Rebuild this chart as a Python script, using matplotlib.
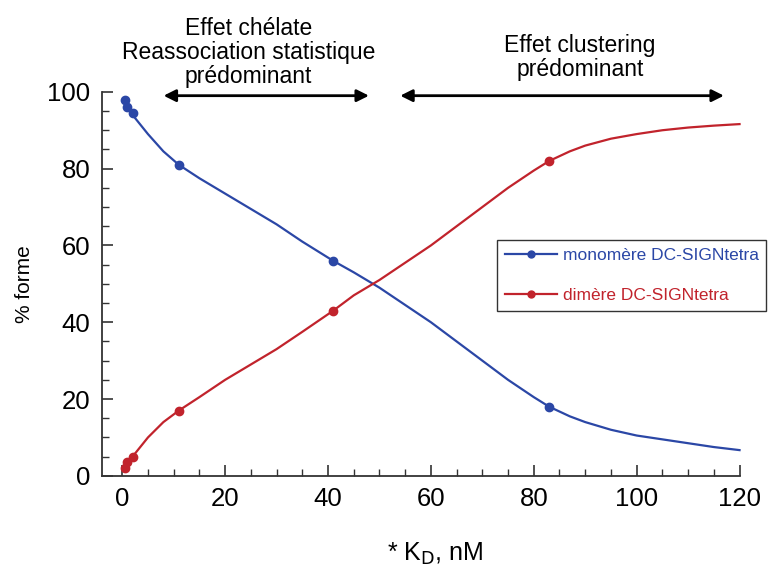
import matplotlib
matplotlib.use('Agg')
import matplotlib.pyplot as plt
from matplotlib.ticker import MultipleLocator

# measured points
kd_pts = [0.5, 1, 2, 11, 41, 83]
mono_pts = [98, 96, 94.5, 81, 56, 18]
dimer_pts = [2, 3.5, 5, 17, 43, 82]

# fitted curves
kd_fit = [0.5, 1, 2, 3.5, 5, 8, 11, 15, 20, 25, 30, 35, 41, 45, 50, 55, 60, 65, 70, 75, 80, 83,
          87, 90, 95, 100, 105, 110, 115, 120]
mono_fit = [98, 96, 94, 91.5, 89, 84.5, 81, 77.5, 73.5, 69.5, 65.5, 61, 56, 53, 49, 44.5, 40,
            35, 30, 25, 20.5, 18, 15.5, 14, 12, 10.5, 9.5, 8.5, 7.5, 6.7]
dimer_fit = [2, 3.5, 5, 7.5, 10, 14, 17, 20.5, 25, 29, 33, 37.5, 43, 47, 51, 55.5, 60, 65, 70,
             75, 79.5, 82, 84.5, 86, 87.8, 89, 90, 90.7, 91.2, 91.6]

blue = '#2b47a6'
red = '#c1232c'

plt.rcParams['font.family'] = ['Liberation Sans', 'DejaVu Sans']

fig = plt.figure(figsize=(7.82, 5.74), dpi=100)
ax = fig.add_axes([0.130, 0.171, 0.819, 0.669])

ax.plot(kd_fit, mono_fit, color=blue, lw=1.6)
ax.plot(kd_fit, dimer_fit, color=red, lw=1.6)
ax.plot(kd_pts, mono_pts, 'o', color=blue, ms=6)
ax.plot(kd_pts, dimer_pts, 'o', color=red, ms=6)

# legend handles (line + marker)
h1, = ax.plot([], [], '-o', color=blue, lw=1.6, ms=5, label='monomère DC-SIGNtetra')
h2, = ax.plot([], [], '-o', color=red, lw=1.6, ms=5, label='dimère DC-SIGNtetra')
leg = ax.legend(handles=[h1, h2], loc='upper left', bbox_to_anchor=(0.618, 0.615),
                fontsize=12.5, labelspacing=1.45, handlelength=3.0, handletextpad=0.3,
                fancybox=False, framealpha=1, edgecolor='#333333', borderpad=0.45,
                borderaxespad=0)
leg.get_frame().set_linewidth(1.0)
for txt, c in zip(leg.get_texts(), [blue, red]):
  txt.set_color(c)

ax.set_xlim(-4, 120.5)
ax.set_ylim(0, 100)
ax.spines['top'].set_visible(False)
ax.spines['right'].set_visible(False)
for s in ['left', 'bottom']:
  ax.spines[s].set_linewidth(1.3)
  ax.spines[s].set_color('#333333')
ax.spines['bottom'].set_bounds(-4, 120)

ax.xaxis.set_major_locator(MultipleLocator(20))
ax.xaxis.set_minor_locator(MultipleLocator(5))
ax.yaxis.set_major_locator(MultipleLocator(20))
ax.yaxis.set_minor_locator(MultipleLocator(5))
ax.tick_params(which='major', direction='in', length=8, width=1.2, labelsize=18.5, pad=8,
               color='#333333')
ax.tick_params(which='minor', direction='in', length=5, width=1.0, color='#333333')

ax.set_ylabel('% forme', fontsize=15, labelpad=10)
ax.set_xlabel('* K$_\\mathrm{D}$, nM', fontsize=18, labelpad=20)
ax.xaxis.set_label_coords(0.52, -0.17)

# regime arrows
arrow_kw = dict(arrowstyle='<|-|>', color='black', lw=2, mutation_scale=18)
ax.annotate('', xy=(7.5, 99), xytext=(48.5, 99), arrowprops=arrow_kw, annotation_clip=False)
ax.annotate('', xy=(53.5, 99), xytext=(117.5, 99), arrowprops=arrow_kw, annotation_clip=False)

ax.text(24.5, 101.0, 'Effet chélate\nReassociation statistique\nprédominant', ha='center',
        va='bottom', fontsize=16.5, linespacing=1.05)
ax.text(89, 102.8, 'Effet clustering\nprédominant', ha='center', va='bottom', fontsize=16.5,
        linespacing=1.05)

fig.savefig('out.png', dpi=100)
